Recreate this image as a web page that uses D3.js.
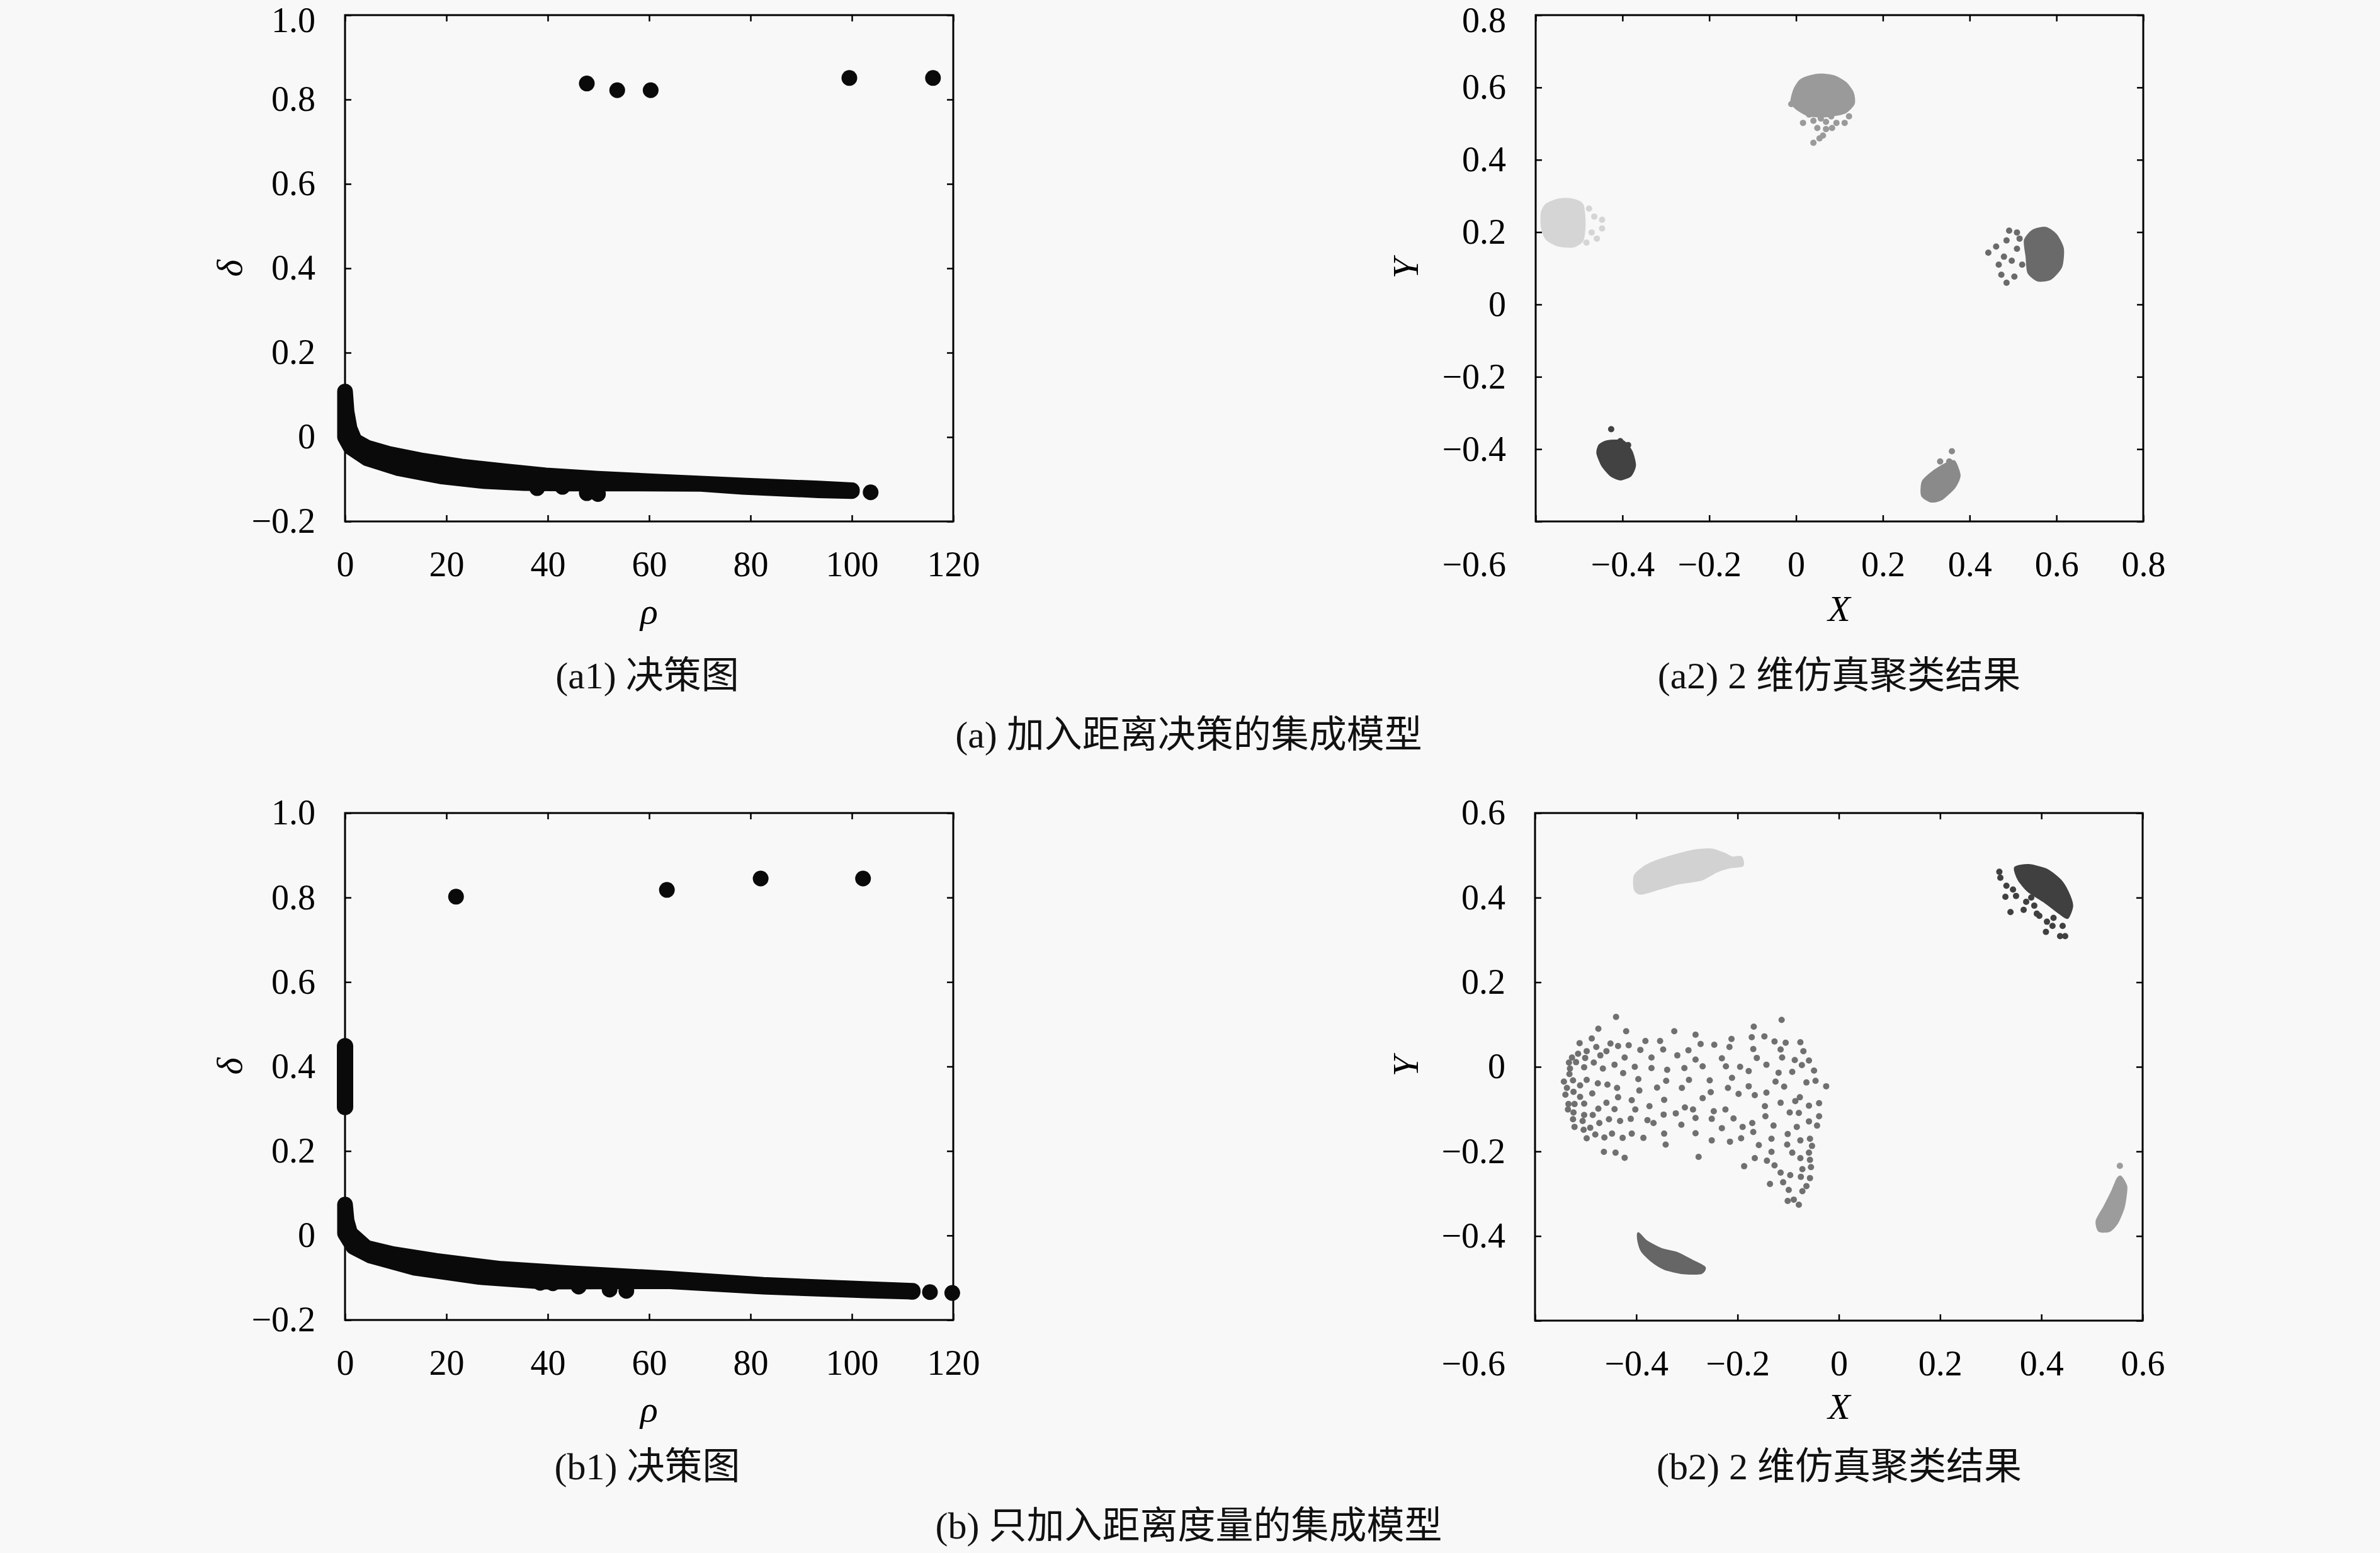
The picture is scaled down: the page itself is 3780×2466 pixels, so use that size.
<!DOCTYPE html>
<html>
<head>
<meta charset="utf-8">
<script src="https://cdn.jsdelivr.net/npm/d3@7/dist/d3.min.js"></script>
<style>
  html, body { margin: 0; padding: 0; background: #f8f8f8; }
  svg { display: block; }
</style>
</head>
<body>
<div id="chart"></div>
<script>
// ---------- data ----------
// (a1) decision graph: rho, delta
var a1Peaks = [[47.7, 0.838], [53.7, 0.822], [60.3, 0.822], [99.5, 0.851], [116.0, 0.851]];
var a1BandTop = [[0, 0.108], [0.3, 0.06], [0.9, 0.02], [1.9, -0.009], [4.3, -0.025], [8.6, -0.040], [14.8, -0.055],
  [23.0, -0.070], [31.3, -0.081], [39.6, -0.091], [49.9, -0.099], [62.0, -0.106], [78.5, -0.115], [93.4, -0.122], [100.0, -0.126]];
var a1BandBottom = [[0, 0.108], [0, 0.0], [1.1, -0.024], [4.3, -0.050], [10.6, -0.074], [18.9, -0.093], [27.2, -0.104],
  [35.4, -0.109], [43.7, -0.110], [56.1, -0.110], [70.2, -0.111], [78.5, -0.118], [93.4, -0.126], [100.0, -0.128]];
var a1Low = [[37.9, -0.121], [42.9, -0.118], [47.7, -0.133], [49.9, -0.135], [103.7, -0.131]];

// (b1) decision graph
var b1Peaks = [[21.9, 0.802], [63.5, 0.818], [82.0, 0.845], [102.2, 0.845]];
var b1Stem = [[0, 0.448], [0, 0.304]];
var b1BandTop = [[0, 0.073], [0.3, 0.035], [1.0, 0.005], [4.2, -0.029], [9.4, -0.044], [17.9, -0.060], [30.7, -0.079],
  [43.6, -0.089], [63.6, -0.102], [82.5, -0.117], [103, -0.127], [112, -0.131]];
var b1BandBottom = [[0, 0.073], [0, 0.005], [1.65, -0.027], [5.1, -0.048], [13.6, -0.076], [26.5, -0.098], [39.3, -0.109],
  [63.6, -0.108], [82.5, -0.121], [103, -0.130], [112, -0.133]];
var b1Low = [[38.5, -0.112], [41.0, -0.113], [46.1, -0.121], [52.2, -0.128], [55.5, -0.131], [111.8, -0.133], [115.4, -0.134], [119.8, -0.136]];

// (a2) clusters: X, Y
var a2TopBlob = [[-0.004, 0.595], [0.010, 0.620], [0.035, 0.632], [0.059, 0.636], [0.090, 0.630], [0.115, 0.612],
  [0.131, 0.585], [0.133, 0.555], [0.112, 0.530], [0.069, 0.520], [0.030, 0.522], [0.002, 0.540], [-0.011, 0.560]];
var a2TopDots = [[0.016, 0.502], [0.040, 0.508], [0.057, 0.514], [0.069, 0.505], [0.081, 0.520], [0.093, 0.502],
  [0.112, 0.502], [0.122, 0.520], [0.049, 0.488], [0.069, 0.485], [0.083, 0.488], [0.062, 0.467], [0.054, 0.459],
  [0.040, 0.447], [-0.011, 0.554], [0.030, 0.525]];
var a2LeftBlob = [[-0.586, 0.254], [-0.576, 0.276], [-0.549, 0.290], [-0.519, 0.291], [-0.492, 0.276], [-0.487, 0.221],
  [-0.492, 0.177], [-0.513, 0.160], [-0.549, 0.163], [-0.576, 0.182], [-0.586, 0.215]];
var a2LeftDots = [[-0.477, 0.265], [-0.465, 0.243], [-0.447, 0.234], [-0.471, 0.199], [-0.459, 0.182], [-0.483, 0.171], [-0.447, 0.210]];
var a2RightBlob = [[0.527, 0.177], [0.545, 0.204], [0.575, 0.212], [0.599, 0.193], [0.615, 0.154], [0.611, 0.104],
  [0.587, 0.071], [0.557, 0.066], [0.535, 0.088], [0.531, 0.132]];
var a2RightDots = [[0.443, 0.143], [0.461, 0.160], [0.467, 0.110], [0.479, 0.132], [0.485, 0.177], [0.491, 0.204],
  [0.497, 0.121], [0.509, 0.154], [0.503, 0.077], [0.485, 0.060], [0.473, 0.082], [0.521, 0.110], [0.515, 0.182], [0.509, 0.199]];
var a2LowLeftBlob = [[-0.453, -0.389], [-0.435, -0.378], [-0.399, -0.378], [-0.379, -0.406], [-0.371, -0.445],
  [-0.381, -0.473], [-0.405, -0.484], [-0.427, -0.473], [-0.447, -0.445], [-0.458, -0.411]];
var a2LowLeftDots = [[-0.426, -0.345], [-0.405, -0.378], [-0.387, -0.389]];
var a2LowMidBlob = [[0.365, -0.434], [0.377, -0.473], [0.365, -0.506], [0.335, -0.539], [0.311, -0.545],
  [0.290, -0.528], [0.292, -0.489], [0.317, -0.461], [0.347, -0.439]];
var a2LowMidDots = [[0.359, -0.406], [0.332, -0.434], [0.353, -0.434]];

// (b2) clusters
var b2TopLeftBlob = [[-0.403, 0.419], [-0.403, 0.452], [-0.380, 0.476], [-0.339, 0.495], [-0.288, 0.511], [-0.252, 0.514],
  [-0.226, 0.504], [-0.211, 0.495], [-0.193, 0.496], [-0.190, 0.476], [-0.216, 0.471], [-0.242, 0.461],
  [-0.272, 0.442], [-0.319, 0.433], [-0.360, 0.419], [-0.391, 0.409]];
var b2TopRightBlob = [[0.348, 0.471], [0.375, 0.477], [0.411, 0.466], [0.437, 0.442], [0.452, 0.414], [0.461, 0.381],
  [0.452, 0.352], [0.437, 0.362], [0.406, 0.390], [0.375, 0.414], [0.355, 0.442]];
var b2TopRightDots = [[0.317, 0.461], [0.319, 0.447], [0.331, 0.428], [0.344, 0.419], [0.329, 0.402], [0.350, 0.404],
  [0.339, 0.366], [0.365, 0.371], [0.370, 0.390], [0.386, 0.381], [0.396, 0.357], [0.411, 0.343], [0.422, 0.333],
  [0.442, 0.333], [0.437, 0.309], [0.447, 0.309], [0.409, 0.319], [0.424, 0.352], [0.391, 0.362], [0.380, 0.400]];
var b2LowLeftBlob = [[-0.396, -0.393], [-0.380, -0.412], [-0.350, -0.431], [-0.319, -0.440], [-0.288, -0.459],
  [-0.265, -0.474], [-0.272, -0.488], [-0.308, -0.488], [-0.344, -0.478], [-0.370, -0.459], [-0.389, -0.436], [-0.396, -0.412]];
var b2LowRightBlob = [[0.557, -0.260], [0.568, -0.284], [0.563, -0.331], [0.550, -0.369], [0.535, -0.388],
  [0.514, -0.388], [0.509, -0.364], [0.524, -0.331], [0.540, -0.293], [0.550, -0.265]];
var b2LowRightDots = [[0.555, -0.234]];
var b2SparseDots = [
  [-0.440, 0.118], [-0.475, 0.090], [-0.420, 0.084], [-0.325, 0.084], [-0.488, 0.067], [-0.512, 0.056], [-0.451, 0.055],
  [-0.479, 0.047], [-0.436, 0.049], [-0.415, 0.051], [-0.382, 0.061], [-0.353, 0.061], [-0.392, 0.040], [-0.347, 0.041],
  [-0.498, 0.037], [-0.515, 0.031], [-0.459, 0.037], [-0.471, 0.027], [-0.527, 0.022], [-0.501, 0.021], [-0.423, 0.022],
  [-0.370, 0.022], [-0.319, 0.027], [-0.533, 0.010], [-0.519, 0.011], [-0.484, 0.010], [-0.531, -0.004], [-0.503, -0.001],
  [-0.466, -0.004], [-0.443, 0.005], [-0.403, 0.000], [-0.370, -0.003], [-0.339, -0.007], [-0.305, -0.003], [-0.532, -0.017],
  [-0.426, -0.015], [-0.543, -0.035], [-0.525, -0.032], [-0.498, -0.031], [-0.511, -0.044], [-0.476, -0.039], [-0.457, -0.042],
  [-0.396, -0.029], [-0.341, -0.033], [-0.537, -0.050], [-0.524, -0.059], [-0.540, -0.066], [-0.487, -0.063], [-0.438, -0.050],
  [-0.394, -0.056], [-0.359, -0.049], [-0.310, -0.050], [-0.511, -0.071], [-0.436, -0.072], [-0.409, -0.079], [-0.345, -0.078],
  [-0.534, -0.088], [-0.522, -0.088], [-0.503, -0.087], [-0.459, -0.085], [-0.374, -0.093], [-0.535, -0.101], [-0.475, -0.099],
  [-0.443, -0.100], [-0.402, -0.101], [-0.304, -0.096], [-0.524, -0.108], [-0.503, -0.114], [-0.486, -0.114], [-0.346, -0.113],
  [-0.322, -0.110], [-0.525, -0.124], [-0.506, -0.128], [-0.454, -0.124], [-0.432, -0.128], [-0.411, -0.123], [-0.378, -0.126],
  [-0.366, -0.133], [-0.473, -0.133], [-0.522, -0.142], [-0.504, -0.149], [-0.491, -0.144], [-0.311, -0.137], [-0.481, -0.160],
  [-0.448, -0.158], [-0.409, -0.158], [-0.498, -0.169], [-0.463, -0.167], [-0.427, -0.168], [-0.386, -0.168], [-0.345, -0.158],
  [-0.342, -0.184], [-0.464, -0.201], [-0.441, -0.203], [-0.423, -0.215],
  [-0.113, 0.111], [-0.168, 0.095], [-0.283, 0.076], [-0.212, 0.066], [-0.172, 0.070], [-0.147, 0.072], [-0.127, 0.060],
  [-0.105, 0.057], [-0.076, 0.058], [-0.273, 0.054], [-0.246, 0.052], [-0.216, 0.047], [-0.169, 0.042], [-0.115, 0.041],
  [-0.070, 0.037], [-0.297, 0.039], [-0.283, 0.017], [-0.231, 0.020], [-0.162, 0.021], [-0.112, 0.022], [-0.087, 0.016],
  [-0.059, 0.015], [-0.269, 0.001], [-0.223, 0.001], [-0.195, 0.000], [-0.178, -0.010], [-0.143, 0.005], [-0.073, 0.004],
  [-0.119, -0.014], [-0.092, -0.012], [-0.049, -0.009], [-0.296, -0.031], [-0.255, -0.032], [-0.211, -0.026], [-0.125, -0.035],
  [-0.108, -0.047], [-0.064, -0.037], [-0.046, -0.033], [-0.025, -0.046], [-0.253, -0.060], [-0.219, -0.050], [-0.198, -0.064],
  [-0.178, -0.046], [-0.166, -0.067], [-0.143, -0.061], [-0.269, -0.074], [-0.115, -0.085], [-0.086, -0.081], [-0.077, -0.072],
  [-0.059, -0.092], [-0.039, -0.086], [-0.288, -0.101], [-0.247, -0.105], [-0.224, -0.101], [-0.146, -0.093], [-0.097, -0.108],
  [-0.079, -0.109], [-0.283, -0.121], [-0.251, -0.123], [-0.208, -0.122], [-0.145, -0.117], [-0.039, -0.117], [-0.231, -0.145],
  [-0.190, -0.142], [-0.171, -0.133], [-0.129, -0.139], [-0.083, -0.142], [-0.059, -0.129], [-0.043, -0.139], [-0.283, -0.157],
  [-0.169, -0.154], [-0.101, -0.159], [-0.251, -0.174], [-0.215, -0.177], [-0.193, -0.169], [-0.158, -0.185], [-0.133, -0.170],
  [-0.102, -0.184], [-0.076, -0.174], [-0.057, -0.170], [-0.053, -0.187], [-0.277, -0.213], [-0.166, -0.216], [-0.133, -0.201],
  [-0.092, -0.203], [-0.076, -0.216], [-0.059, -0.203], [-0.057, -0.220], [-0.187, -0.235], [-0.142, -0.222], [-0.127, -0.233],
  [-0.072, -0.242], [-0.055, -0.237], [-0.115, -0.250], [-0.096, -0.256], [-0.075, -0.260], [-0.057, -0.263], [-0.136, -0.277],
  [-0.110, -0.273], [-0.064, -0.282], [-0.099, -0.291], [-0.072, -0.294], [-0.101, -0.317], [-0.089, -0.314], [-0.079, -0.326]];

// tick values and captions
var rhoTicks = [0, 20, 40, 60, 80, 100, 120];
var deltaTicks = [-0.2, 0, 0.2, 0.4, 0.6, 0.8, 1.0];
var a2Ticks = [-0.6, -0.4, -0.2, 0, 0.2, 0.4, 0.6, 0.8];
var b2Ticks = [-0.6, -0.4, -0.2, 0, 0.2, 0.4, 0.6];
var subCaptions = ["(a1) 决策图", "(a2) 2 维仿真聚类结果", "(b1) 决策图", "(b2) 2 维仿真聚类结果"];
var mainCaptions = ["(a) 加入距离决策的集成模型", "(b) 只加入距离度量的集成模型"];

// ---------- drawing ----------
var W = 3780, H = 2466;
var serif = "'Liberation Serif', 'DejaVu Serif', serif";
var cjk = "'Liberation Serif', 'Noto Sans CJK SC', serif";

var svg = d3.select("#chart").append("svg")
  .attr("width", W).attr("height", H);
svg.append("rect").attr("width", W).attr("height", H).attr("fill", "#f8f8f8");

function fmtNum(d) {
  if (Math.abs(d) < 1e-9) return "0";
  return (d < 0 ? "\u2212" : "") + Math.abs(d).toFixed(1);
}

function panel(left, top, w, h, xDom, yDom, xTicks, yTicks, xFmt, skipMin) {
  var g = svg.append("g").attr("transform", "translate(" + left + "," + top + ")");
  var x = d3.scaleLinear().domain(xDom).range([0, w]);
  var y = d3.scaleLinear().domain(yDom).range([h, 0]);

  var bottom = d3.axisBottom(x).tickValues(xTicks).tickSizeInner(-10).tickSizeOuter(0).tickPadding(47)
    .tickFormat(function(d) { return (skipMin && d === xDom[0]) ? "" : xFmt(d); });
  var leftAx = d3.axisLeft(y).tickValues(yTicks).tickSizeInner(-10).tickSizeOuter(0).tickPadding(47)
    .tickFormat(function(d) { return (skipMin && d === yDom[0]) ? "" : fmtNum(d); });
  var topAx = d3.axisTop(x).tickValues(xTicks).tickSizeInner(-10).tickSizeOuter(0).tickFormat("");
  var rightAx = d3.axisRight(y).tickValues(yTicks).tickSizeInner(-10).tickSizeOuter(0).tickFormat("");

  var gLeft = g.append("g").call(leftAx);
  var axes = [
    g.append("g").attr("transform", "translate(0," + h + ")").call(bottom),
    gLeft,
    g.append("g").call(topAx),
    g.append("g").attr("transform", "translate(" + w + ",0)").call(rightAx)
  ];
  axes.forEach(function(a) {
    a.select(".domain").remove();
    a.selectAll("line").attr("stroke", "#000").attr("stroke-width", 2.5);
    a.selectAll("text").attr("fill", "#000").attr("font-family", serif).attr("font-size", 56);
  });
  // keep the topmost label of the upper row inside the page
  if (top < 60) {
    gLeft.selectAll(".tick").filter(function(d) { return d === yDom[1]; })
      .select("text").attr("y", 9);
  }

  if (skipMin) {
    // the lowest X label sits to the left, level with the other X labels
    g.append("text")
      .attr("x", x(xDom[0]) - 47).attr("y", h + 47).attr("dy", "0.71em")
      .attr("text-anchor", "end")
      .attr("font-family", serif).attr("font-size", 56)
      .text(fmtNum(xDom[0]));
  }

  g.append("rect").attr("width", w).attr("height", h)
    .attr("fill", "none").attr("stroke", "#000").attr("stroke-width", 3);

  return { g: g, x: x, y: y };
}

function band(p, topEdge, bottomEdge, r) {
  var pts = topEdge.concat(bottomEdge.slice().reverse());
  var line = d3.line().x(function(d) { return p.x(d[0]); }).y(function(d) { return p.y(d[1]); })
    .curve(d3.curveLinearClosed);
  p.g.append("path").attr("d", line(pts))
    .attr("fill", "#0a0a0a").attr("stroke", "#0a0a0a")
    .attr("stroke-width", 2 * r).attr("stroke-linejoin", "round");
}

function dots(p, data, r, color) {
  p.g.selectAll(null).data(data).enter().append("circle")
    .attr("cx", function(d) { return p.x(d[0]); })
    .attr("cy", function(d) { return p.y(d[1]); })
    .attr("r", r).attr("fill", color);
}

function blob(p, data, color) {
  var line = d3.line().x(function(d) { return p.x(d[0]); }).y(function(d) { return p.y(d[1]); })
    .curve(d3.curveCardinalClosed.tension(0.3));
  p.g.append("path").attr("d", line(data))
    .attr("fill", color).attr("stroke", color).attr("stroke-width", 3).attr("stroke-linejoin", "round");
}

function rhoFmt(d) { return String(d); }

// ---- (a1)
var pa1 = panel(548, 24, 966, 804, [0, 120], [-0.2, 1.0], rhoTicks, deltaTicks, rhoFmt, false);
band(pa1, a1BandTop, a1BandBottom, 12.5);
dots(pa1, a1Low, 12.5, "#0a0a0a");
dots(pa1, a1Peaks, 12.5, "#0a0a0a");

// ---- (b1)
var pb1 = panel(548, 1291, 966, 805, [0, 120], [-0.2, 1.0], rhoTicks, deltaTicks, rhoFmt, false);
band(pb1, b1BandTop, b1BandBottom, 12.5);
pb1.g.append("line")
  .attr("x1", pb1.x(b1Stem[0][0])).attr("y1", pb1.y(b1Stem[0][1]))
  .attr("x2", pb1.x(b1Stem[1][0])).attr("y2", pb1.y(b1Stem[1][1]))
  .attr("stroke", "#0a0a0a").attr("stroke-width", 26).attr("stroke-linecap", "round");
dots(pb1, b1Low, 12.5, "#0a0a0a");
dots(pb1, b1Peaks, 12.5, "#0a0a0a");

// ---- (a2)
var pa2 = panel(2439, 24, 965, 804, [-0.6, 0.8], [-0.6, 0.8], a2Ticks, a2Ticks, fmtNum, true);
blob(pa2, a2TopBlob, "#9a9a9a"); dots(pa2, a2TopDots, 5, "#9a9a9a");
blob(pa2, a2LeftBlob, "#d5d5d5"); dots(pa2, a2LeftDots, 5, "#d5d5d5");
blob(pa2, a2RightBlob, "#6a6a6a"); dots(pa2, a2RightDots, 5, "#6a6a6a");
blob(pa2, a2LowLeftBlob, "#424242"); dots(pa2, a2LowLeftDots, 5, "#424242");
blob(pa2, a2LowMidBlob, "#8a8a8a"); dots(pa2, a2LowMidDots, 5, "#8a8a8a");

// ---- (b2)
var pb2 = panel(2438, 1291, 965, 806, [-0.6, 0.6], [-0.6, 0.6], b2Ticks, b2Ticks, fmtNum, true);
blob(pb2, b2TopLeftBlob, "#d2d2d2");
blob(pb2, b2TopRightBlob, "#404040"); dots(pb2, b2TopRightDots, 5, "#404040");
dots(pb2, b2SparseDots, 5, "#707070");
blob(pb2, b2LowLeftBlob, "#666666");
blob(pb2, b2LowRightBlob, "#9c9c9c"); dots(pb2, b2LowRightDots, 5, "#9c9c9c");

// ---------- axis names ----------
function axisName(txt, cx, cy, rot) {
  svg.append("text")
    .attr("transform", "translate(" + cx + "," + cy + ")" + (rot ? " rotate(-90)" : ""))
    .attr("text-anchor", "middle").attr("dominant-baseline", "central")
    .attr("font-family", serif).attr("font-style", "italic").attr("font-size", 58)
    .text(txt);
}
axisName("ρ", 1031, 970, false);
axisName("δ", 364, 426, true);
axisName("X", 2921, 966, false);
axisName("Y", 2232, 426, true);
axisName("ρ", 1031, 2237, false);
axisName("δ", 364, 1693, true);
axisName("X", 2921, 2233, false);
axisName("Y", 2232, 1693, true);

// ---------- captions ----------
var capPos = [[1028, 1073], [2921, 1073], [1028, 2329], [2921, 2329]];
subCaptions.forEach(function(c, i) {
  svg.append("text").attr("x", capPos[i][0]).attr("y", capPos[i][1])
    .attr("text-anchor", "middle").attr("dominant-baseline", "central")
    .attr("font-family", cjk).attr("font-size", 60).attr("fill", "#111")
    .text(c);
});
var mainPos = [[1888, 1167], [1888, 2423]];
mainCaptions.forEach(function(c, i) {
  svg.append("text").attr("x", mainPos[i][0]).attr("y", mainPos[i][1])
    .attr("text-anchor", "middle").attr("dominant-baseline", "central")
    .attr("font-family", cjk).attr("font-size", 60).attr("fill", "#111")
    .text(c);
});
</script>
</body>
</html>
